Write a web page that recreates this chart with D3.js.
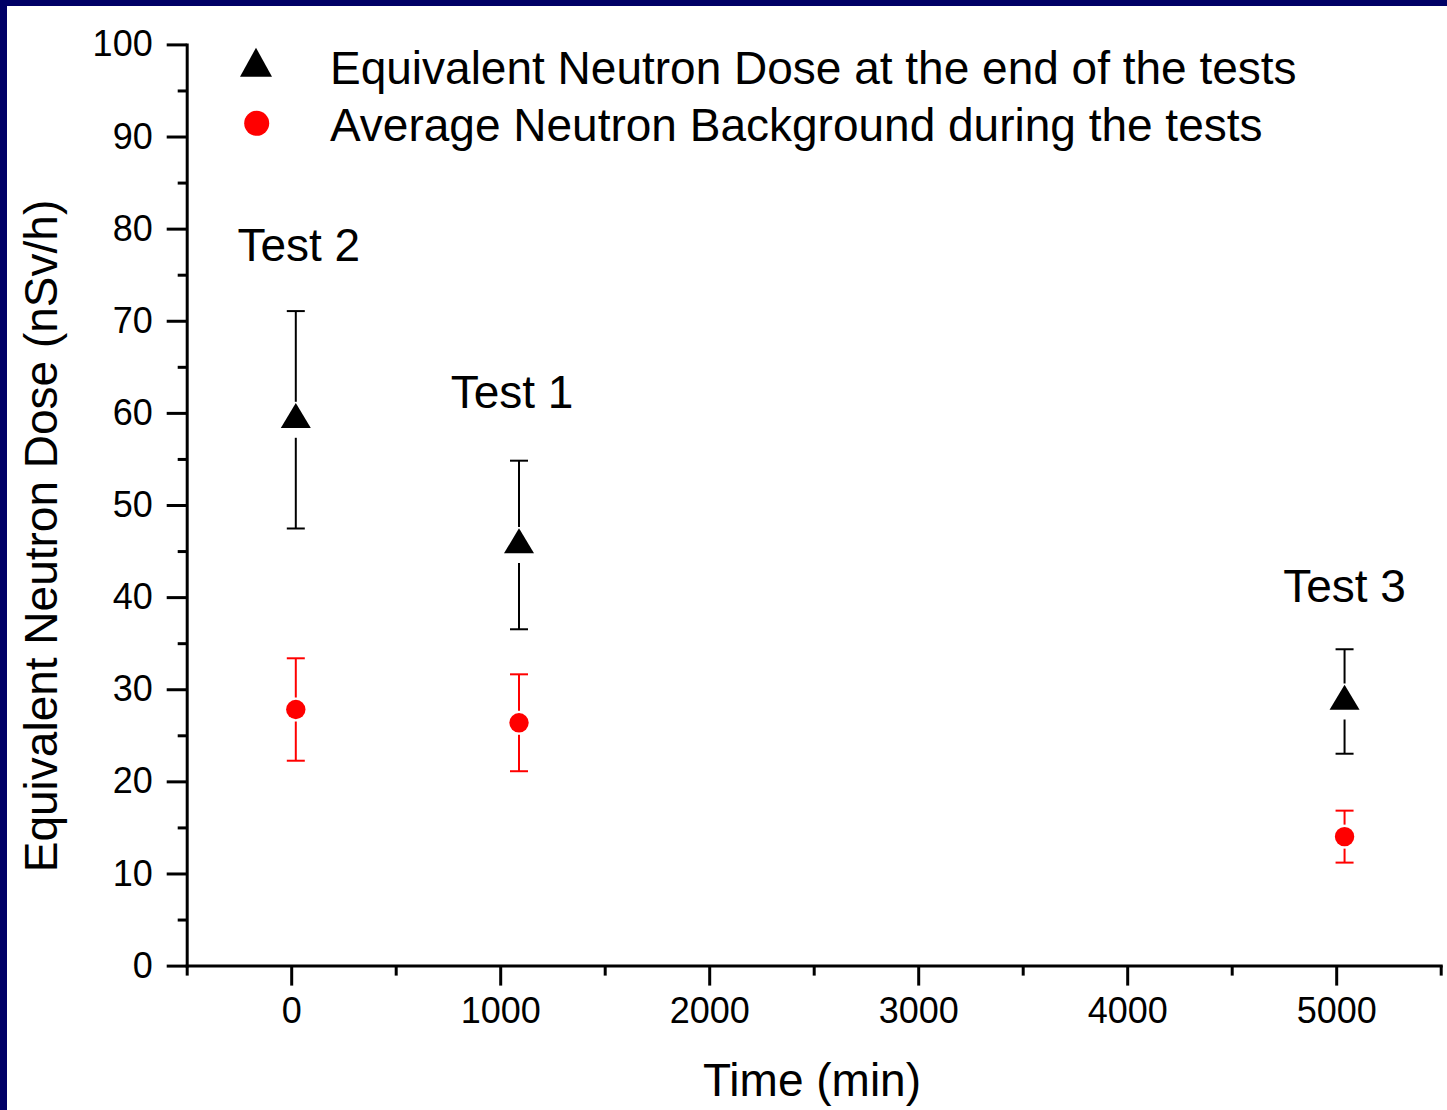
<!DOCTYPE html>
<html>
<head>
<meta charset="utf-8">
<script src="https://cdn.jsdelivr.net/npm/d3@7"></script>
<style>
  html, body { margin: 0; padding: 0; background: #fff; }
  svg { display: block; }
  text { font-family: "Liberation Sans", Arial, sans-serif; fill: #000; }
</style>
</head>
<body>
<div id="chart"></div>
<script>
// ---- data ----
const testNames = ["Test 2", "Test 1", "Test 3"];
const times = [22, 1090, 5040];
const doseValues = [59.25, 45.66, 28.67];
const doseErrors = [11.8, 9.15, 5.67];
const backgroundValues = [27.8, 26.36, 14.0];
const backgroundErrors = [5.56, 5.26, 2.82];
const xMajorTicks = [0, 1000, 2000, 3000, 4000, 5000];
const yMajorTicks = [0, 10, 20, 30, 40, 50, 60, 70, 80, 90, 100];
const legendLabels = ["Equivalent Neutron Dose at the end of the tests", "Average Neutron Background during the tests"];
const xTitle = "Time (min)";
const yTitle = "Equivalent Neutron Dose (nSv/h)";

// ---- layout ----
const W = 1447, H = 1110;
const labelDx = [3, -7, 0];
const labelDy = [50, 53, 47];

const svg = d3.select("#chart").append("svg").attr("width", W).attr("height", H);
svg.append("rect").attr("width", W).attr("height", H).attr("fill", "#fff");
svg.append("rect").attr("x", 0).attr("y", 0).attr("width", W).attr("height", 6).attr("fill", "#000066");
svg.append("rect").attr("x", 0).attr("y", 0).attr("width", 7).attr("height", H).attr("fill", "#000066");

const x = d3.scaleLinear().domain([-500, 5500]).range([186.7, 1440.7]);
const y = d3.scaleLinear().domain([0, 100]).range([965.6, 44.4]);

const axisW = 3;
const xMinor = d3.range(-500, 5501, 500).filter(v => v % 1000 !== 0);
const yMinor = d3.range(5, 100, 10);

const gx = svg.append("g").attr("transform", `translate(0,${y(0)})`);
gx.call(d3.axisBottom(x).tickValues(xMinor).tickSize(10).tickSizeOuter(0).tickFormat(""));
gx.call(g => g.select(".domain").remove());
const gx2 = svg.append("g").attr("transform", `translate(0,${y(0)})`);
gx2.call(d3.axisBottom(x).tickValues(xMajorTicks).tickSize(20).tickSizeOuter(0).tickPadding(12).tickFormat(d3.format("d")));

const gy = svg.append("g").attr("transform", `translate(${x(-500)},0)`);
gy.call(d3.axisLeft(y).tickValues(yMinor).tickSize(9).tickSizeOuter(0).tickFormat(""));
gy.call(g => g.select(".domain").remove());
const gy2 = svg.append("g").attr("transform", `translate(${x(-500)},0)`);
gy2.call(d3.axisLeft(y).tickValues(yMajorTicks).tickSize(20).tickSizeOuter(0).tickPadding(14).tickFormat(d3.format("d")));

svg.selectAll(".domain").attr("stroke", "#000").attr("stroke-width", axisW).attr("stroke-linecap", "square");
svg.selectAll(".tick line").attr("stroke", "#000").attr("stroke-width", axisW);
svg.selectAll(".tick text").style("font-family", "'Liberation Sans', Arial, sans-serif").style("font-size", "36px").attr("fill", "#000");

// axis titles
svg.append("text").attr("x", 812).attr("y", 1096).attr("text-anchor", "middle")
  .style("font-size", "46px").text(xTitle);
svg.append("text").attr("transform", `translate(57,536) rotate(-90)`).attr("text-anchor", "middle")
  .style("font-size", "46px").text(yTitle);

// ---- symbols ----
function triPath(w, h) {
  return `M0,${-2 * h / 3}L${w / 2},${h / 3}L${-w / 2},${h / 3}Z`;
}

function errorBars(values, errors, color, gap) {
  const g = svg.append("g").attr("stroke", color).attr("stroke-width", 2).attr("fill", "none");
  times.forEach((t, i) => {
    const cx = x(t), cy = y(values[i]);
    const top = y(values[i] + errors[i]), bot = y(values[i] - errors[i]);
    g.append("line").attr("x1", cx).attr("x2", cx).attr("y1", top).attr("y2", cy - gap);
    g.append("line").attr("x1", cx).attr("x2", cx).attr("y1", cy + gap).attr("y2", bot);
    g.append("line").attr("x1", cx - 9).attr("x2", cx + 9).attr("y1", top).attr("y2", top);
    g.append("line").attr("x1", cx - 9).attr("x2", cx + 9).attr("y1", bot).attr("y2", bot);
  });
}

errorBars(doseValues, doseErrors, "#000", 18);
errorBars(backgroundValues, backgroundErrors, "#ff0000", 12);

svg.append("g").selectAll("path").data(times).join("path")
  .attr("transform", (t, i) => `translate(${x(t)},${y(doseValues[i])})`)
  .attr("d", triPath(30, 25)).attr("fill", "#000");

svg.append("g").selectAll("circle").data(times).join("circle")
  .attr("cx", t => x(t)).attr("cy", (t, i) => y(backgroundValues[i])).attr("r", 9.7)
  .attr("fill", "#ff0000");

// test labels above error bars
svg.append("g").selectAll("text").data(testNames).join("text")
  .attr("x", (d, i) => x(times[i]) + labelDx[i])
  .attr("y", (d, i) => y(doseValues[i] + doseErrors[i]) - labelDy[i])
  .attr("text-anchor", "middle").style("font-size", "46px").text(d => d);

// legend
const lg = svg.append("g");
lg.append("path").attr("transform", "translate(256,67)").attr("d", triPath(32, 29)).attr("fill", "#000");
lg.append("circle").attr("cx", 256.7).attr("cy", 123.3).attr("r", 12.5).attr("fill", "#ff0000");
lg.selectAll("text").data(legendLabels).join("text")
  .attr("x", 330).attr("y", (d, i) => 84 + i * 57)
  .style("font-size", "46px").text(d => d);
</script>
</body>
</html>
